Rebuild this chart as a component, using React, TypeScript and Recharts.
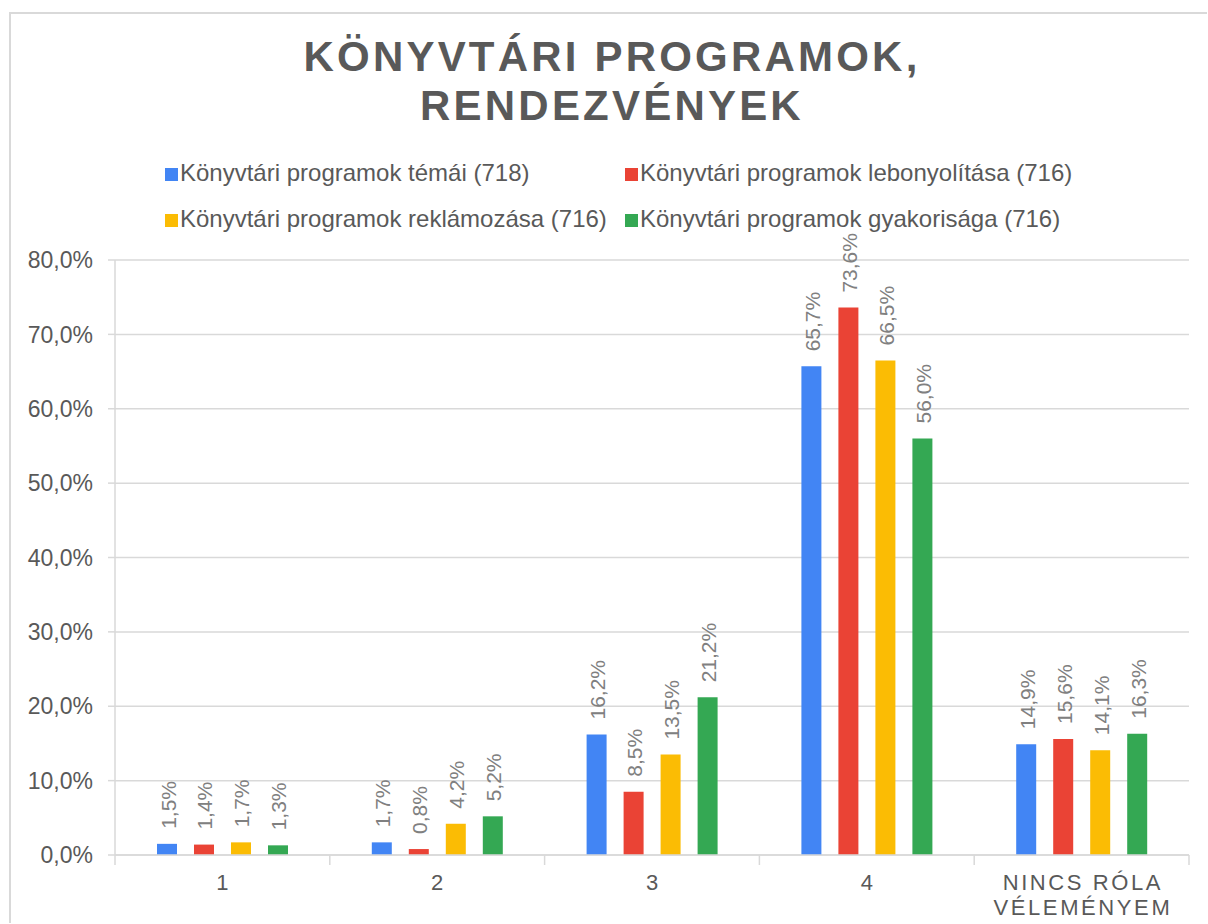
import { BarChart, Bar, XAxis, YAxis, CartesianGrid, LabelList } from "recharts";

const categories = ["1", "2", "3", "4", "NINCS RÓLA VÉLEMÉNYEM"];
const categoryLines = [["1"], ["2"], ["3"], ["4"], ["NINCS RÓLA", "VÉLEMÉNYEM"]];

const temai = [1.5, 1.7, 16.2, 65.7, 14.9];
const lebonyolitasa = [1.4, 0.8, 8.5, 73.6, 15.6];
const reklamozasa = [1.7, 4.2, 13.5, 66.5, 14.1];
const gyakorisaga = [1.3, 5.2, 21.2, 56.0, 16.3];

const yTicks = [0, 10, 20, 30, 40, 50, 60, 70, 80];

const series = [
    { key: "temai", name: "Könyvtári programok témái (718)", color: "#4285F4" },
    { key: "lebonyolitasa", name: "Könyvtári programok lebonyolítása (716)", color: "#EA4335" },
    { key: "reklamozasa", name: "Könyvtári programok reklámozása (716)", color: "#FBBC04" },
    { key: "gyakorisaga", name: "Könyvtári programok gyakorisága (716)", color: "#34A853" },
];

const data = categories.map((c, i) => ({
    name: c,
    temai: temai[i],
    lebonyolitasa: lebonyolitasa[i],
    reklamozasa: reklamozasa[i],
    gyakorisaga: gyakorisaga[i],
}));

const FONT = '"Liberation Sans", Arial, sans-serif';
const W = 1208;
const H = 924;
const Y_AXIS_W = 115;
const RIGHT = 19;
const BAND = (W - Y_AXIS_W - RIGHT) / categories.length;

const fmt = (v: number) => v.toFixed(1).replace(".", ",") + "%";

const renderLabel = (props: any) => {
    const { x, y, width, value } = props;
    const cx = Number(x) + Number(width) / 2 + 1;
    const ty = Number(y) - 15;
    return (
        <text
            x={cx}
            y={ty}
            transform={`rotate(-90 ${cx} ${ty})`}
            textAnchor="start"
            dominantBaseline="central"
            fill="#808080"
            fontSize={21}
            fontFamily={FONT}
        >
            {fmt(Number(value))}
        </text>
    );
};

const XTick = (props: any) => {
    const { x, y, index } = props;
    const lines = categoryLines[index] || [];
    const ls = lines.length > 1 ? 2.6 : 0;
    return (
        <g>
            <line x1={x - BAND / 2} x2={x - BAND / 2} y1={y} y2={y + 10} stroke="#d9d9d9" strokeWidth={1.5} />
            {index === categories.length - 1 && (
                <line x1={x + BAND / 2} x2={x + BAND / 2} y1={y} y2={y + 10} stroke="#d9d9d9" strokeWidth={1.5} />
            )}
            {lines.map((l: string, i: number) => (
                <text
                    key={i}
                    x={x + ls / 2}
                    y={y + 35 + i * 25}
                    textAnchor="middle"
                    fill="#595959"
                    fontSize={22}
                    letterSpacing={ls}
                    fontFamily={FONT}
                >
                    {l}
                </text>
            ))}
        </g>
    );
};

export default function App() {
    return (
        <div style={{ position: "absolute", left: 0, top: 0, width: W, height: H, background: "#fff", fontFamily: FONT }}>
            {/* border */}
            <div
                style={{
                    position: "absolute",
                    left: 9,
                    top: 12,
                    width: W - 9 - 1,
                    height: H - 12 - 1,
                    borderLeft: "2px solid #d9d9d9",
                    borderTop: "2px solid #d9d9d9",
                    boxSizing: "border-box",
                }}
            />

            {/* title */}
            <div
                style={{
                    position: "absolute",
                    left: 0,
                    top: 32,
                    width: W,
                    paddingLeft: 16,
                    boxSizing: "border-box",
                    textAlign: "center",
                    fontSize: 42,
                    fontWeight: "bold",
                    letterSpacing: 3.2,
                    lineHeight: "49px",
                    color: "#595959",
                }}
            >
                KÖNYVTÁRI PROGRAMOK,
                <br />
                RENDEZVÉNYEK
            </div>

            {/* legend */}
            {series.map((s, i) => {
                const col = i % 2;
                const row = Math.floor(i / 2);
                return (
                    <div
                        key={s.key}
                        style={{
                            position: "absolute",
                            left: col === 0 ? 165 : 625,
                            top: 158 + row * 46,
                            height: 30,
                            display: "flex",
                            alignItems: "center",
                            fontSize: 24,
                            color: "#595959",
                            whiteSpace: "nowrap",
                        }}
                    >
                        <span style={{ display: "inline-block", width: 13, height: 13, background: s.color, marginRight: 2, marginTop: 3 }} />
                        {s.name}
                    </div>
                );
            })}

            <div style={{ position: "absolute", left: 0, top: 0 }}>
                <BarChart
                    width={W}
                    height={H}
                    data={data}
                    margin={{ top: 260, right: RIGHT, bottom: 0, left: 0 }}
                    barSize={20}
                    barGap={17}
                >
                    <CartesianGrid vertical={false} stroke="#d9d9d9" strokeWidth={1.5} />
                    <XAxis
                        dataKey="name"
                        height={69}
                        axisLine={{ stroke: "#d9d9d9", strokeWidth: 1.5 }}
                        tickLine={false}
                        tickSize={0}
                        tickMargin={0}
                        interval={0}
                        tick={<XTick />}
                    />
                    <YAxis
                        width={Y_AXIS_W}
                        domain={[0, 80]}
                        ticks={yTicks}
                        interval={0}
                        tickFormatter={(v: number) => fmt(v)}
                        axisLine={{ stroke: "#d9d9d9", strokeWidth: 1.5 }}
                        tickLine={{ stroke: "#d9d9d9", strokeWidth: 1.5 }}
                        tickSize={7}
                        tickMargin={15}
                        tick={{ fill: "#595959", fontSize: 23, fontFamily: FONT }}
                    />
                    {series.map((s) => (
                        <Bar key={s.key} dataKey={s.key} name={s.name} fill={s.color} isAnimationActive={false}>
                            <LabelList dataKey={s.key} content={renderLabel} />
                        </Bar>
                    ))}
                </BarChart>
            </div>
        </div>
    );
}
